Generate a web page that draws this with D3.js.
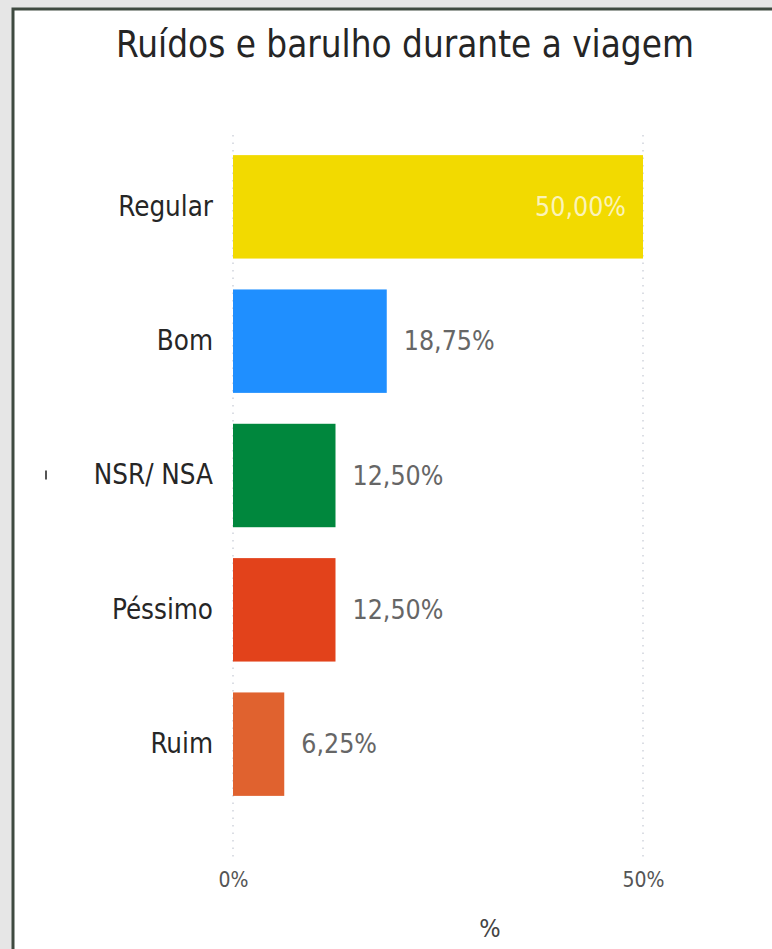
<!DOCTYPE html>
<html>
<head>
<meta charset="utf-8">
<script src="https://cdn.jsdelivr.net/npm/d3@7"></script>
<style>
  html, body { margin: 0; padding: 0; background: #e6e6e6; }
  #chart { width: 772px; height: 949px; }
  text { font-family: "DejaVu Sans Condensed", "DejaVu Sans", sans-serif; }
</style>
</head>
<body>
<div id="chart"></div>
<script>
const categories = ['Regular', 'Bom', 'NSR/ NSA', 'Péssimo', 'Ruim']
const values = [50.0, 18.75, 12.5, 12.5, 6.25]
const colors = ['#F2DA00', '#1F8FFF', '#00873D', '#E2421B', '#E0622F']
const xTicks = [0, 50]
const title = 'Ruídos e barulho durante a viagem'
const xTitle = '%'

const width = 772
const height = 949
const margin = { top: 137, right: 129, bottom: 90, left: 233 }

const svg = d3.select('#chart')
  .append('svg')
  .attr('width', width)
  .attr('height', height)

// panel with dark frame on left/top
svg.append('rect')
  .attr('x', 13).attr('y', 9)
  .attr('width', width).attr('height', height)
  .attr('fill', '#ffffff')
  .attr('stroke', '#3f4a40')
  .attr('stroke-width', 3)

const xScale = d3.scaleLinear()
  .domain([0, 50])
  .range([margin.left, width - margin.right])

const yScale = d3.scaleBand()
  .domain(categories)
  .range([margin.top + 2, height - margin.bottom - 47])
  .paddingInner(0.23)
  .paddingOuter(0.12)

// dotted gridlines
svg.append('g')
  .selectAll('line')
  .data(xTicks)
  .join('line')
  .attr('x1', (d) => xScale(d))
  .attr('x2', (d) => xScale(d))
  .attr('y1', 135)
  .attr('y2', 862)
  .attr('stroke', '#cfd3dc')
  .attr('stroke-width', 1.5)
  .attr('stroke-dasharray', '1.5 6')

const xAxis = d3.axisBottom(xScale)
  .tickValues(xTicks)
  .tickFormat((d) => d + '%')
  .tickSize(0)
  .tickPadding(0)

svg.append('g')
  .attr('transform', 'translate(0, 868)')
  .call(xAxis)
  .call((g) => g.select('.domain').remove())
  .selectAll('text')
  .attr('dy', '0.9em')
  .style('font-size', '21px')
  .style('fill', '#555')

const yAxis = d3.axisLeft(yScale).tickSize(0).tickPadding(20)

svg.append('g')
  .attr('transform', `translate(${margin.left}, 0)`)
  .call(yAxis)
  .call((g) => g.select('.domain').remove())
  .selectAll('text')
  .style('font-size', '27.5px')
  .style('fill', '#262626')

// bars
svg.append('g')
  .selectAll('rect')
  .data(values)
  .join('rect')
  .attr('x', xScale(0))
  .attr('y', (d, i) => yScale(categories[i]))
  .attr('width', (d) => xScale(d) - xScale(0))
  .attr('height', yScale.bandwidth())
  .attr('fill', (d, i) => colors[i])

const fmt = (v) => v.toFixed(2).replace('.', ',') + '%'

// value labels
svg.append('g')
  .selectAll('text')
  .data(values)
  .join('text')
  .attr('x', (d) => d >= 40 ? xScale(d) - 17 : xScale(d) + 17)
  .attr('y', (d, i) => yScale(categories[i]) + yScale.bandwidth() / 2)
  .attr('dy', '0.35em')
  .attr('text-anchor', (d) => d >= 40 ? 'end' : 'start')
  .style('font-size', '26.5px')
  .style('fill', (d) => d >= 40 ? '#fbf3b8' : '#666')
  .text(fmt)

// title
svg.append('text')
  .attr('x', 405)
  .attr('y', 57)
  .attr('text-anchor', 'middle')
  .style('font-size', '36.5px')
  .style('fill', '#252525')
  .text(title)

// axis title
svg.append('text')
  .attr('x', (xScale(0) + xScale(50)) / 2 + 52)
  .attr('y', 937)
  .attr('text-anchor', 'middle')
  .style('font-size', '25px')
  .style('fill', '#444')
  .text(xTitle)

// small stray mark left of NSR label
svg.append('rect')
  .attr('x', 45).attr('y', yScale('NSR/ NSA') + yScale.bandwidth() / 2 - 5)
  .attr('width', 2).attr('height', 9)
  .attr('fill', '#555')
</script>
</body>
</html>
